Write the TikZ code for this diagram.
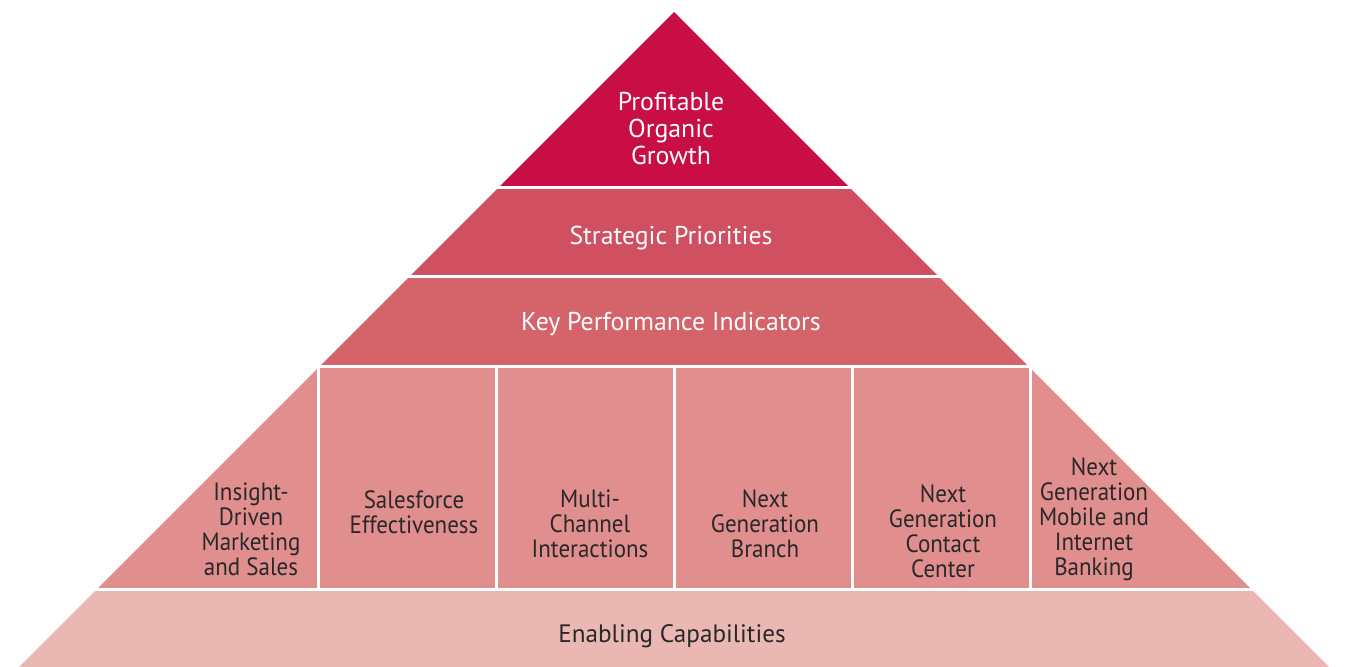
\documentclass[tikz,border=0pt]{standalone}
\usepackage{fontspec}
\setmainfont{PT Sans}
\newfontfamily\narrowfont[FakeStretch=0.92]{PT Sans}
\usepackage{tikz}
\usetikzlibrary{positioning}
\definecolor{growthred}{RGB}{200,14,68}
\definecolor{priored}{RGB}{208,79,96}
\definecolor{kpired}{RGB}{213,99,106}
\definecolor{colred}{RGB}{225,142,143}
\definecolor{basered}{RGB}{235,183,179}
\definecolor{darktext}{RGB}{40,40,40}

\begin{document}
\begin{tikzpicture}[x=0.5pt,y=-0.5pt,
    bandtext/.style={align=center,text=white,font=\fontsize{12.9}{13.5}\selectfont},
    coltext/.style={align=center,text=darktext,font=\narrowfont\fontsize{12.5}{12.5}\selectfont},
    basetext/.style={align=center,text=darktext,font=\fontsize{12.6}{12.6}\selectfont},
    gapline/.style={white,line width=1.5pt}]
    \useasboundingbox (0,0) rectangle (1348,667);

    % layers of the pyramid, bottom to top
    \fill[basered] (19,667) -- (96.5,589.5) -- (1251.5,589.5) -- (1329,667) -- cycle;
    \fill[colred] (96.5,589.5) -- (319.5,366.5) -- (1028.5,366.5) -- (1251.5,589.5) -- cycle;
    \fill[kpired] (319.5,366.5) -- (409.5,276.5) -- (938.5,276.5) -- (1028.5,366.5) -- cycle;
    \fill[priored] (409.5,276.5) -- (498.5,187.5) -- (849.5,187.5) -- (938.5,276.5) -- cycle;
    \fill[growthred] (498.5,187.5) -- (674,12) -- (849.5,187.5) -- cycle;

    % white gaps
    \foreach \y in {187.5,276.5,366.5,589.5}
      \draw[gapline] (0,\y) -- (1348,\y);
    \foreach \x in {318,496,674,852,1030}
      \draw[gapline] (\x,366.5) -- (\x,589.5);

    \node[bandtext] (growth) at (671,129) {Profitable\\Organic\\Growth};
    \node[bandtext] (priorities) at (671,238) {Strategic Priorities};
    \node[bandtext] (kpi) at (671,324) {Key Performance Indicators};

    \node[coltext] (insight) at (251,529) {Insight-\\Driven\\Marketing\\and Sales};
    \node[coltext] (salesforce) at (414,512) {Salesforce\\Effectiveness};
    \node[coltext] (multichannel) at (590,524) {Multi-\\Channel\\Interactions};
    \node[coltext] (branch) at (765,524) {Next\\Generation\\Branch};
    \node[coltext] (contact) at (943,531) {Next\\Generation\\Contact\\Center};
    \node[coltext] (mobile) at (1094,519) {Next\\Generation\\Mobile and\\Internet\\Banking};

    \node[basetext] (enabling) at (672,636) {Enabling Capabilities};
\end{tikzpicture}
\end{document}
